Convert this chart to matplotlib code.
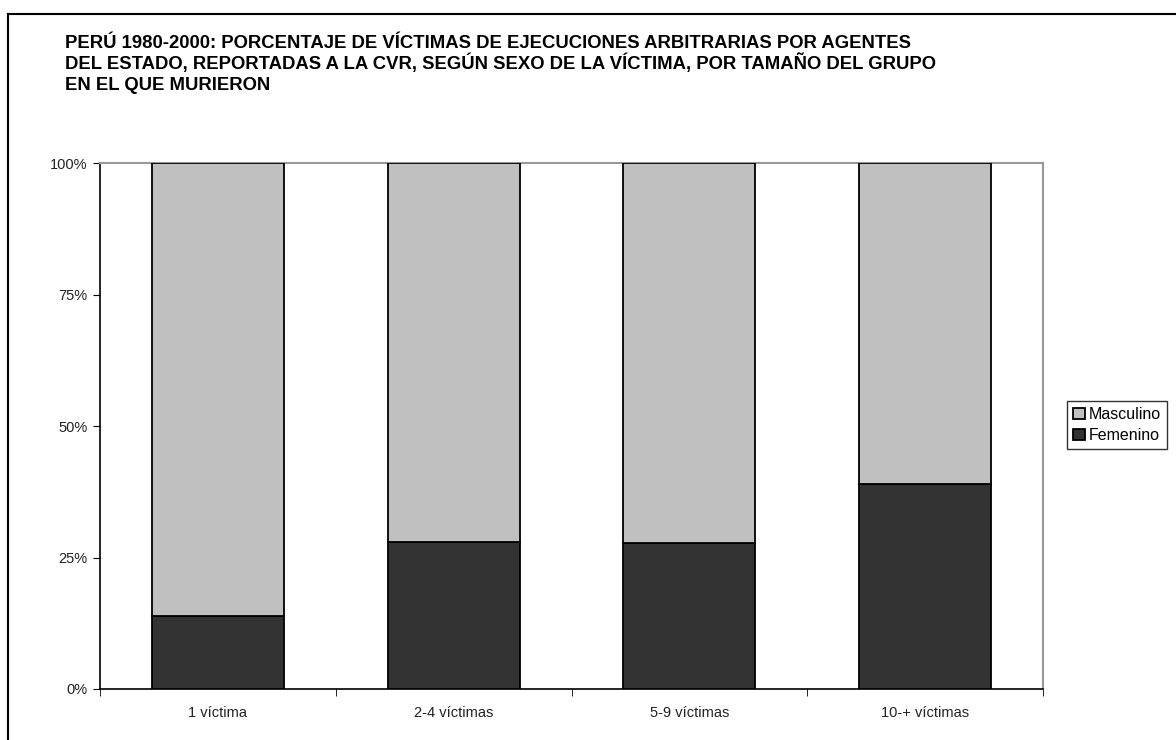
import matplotlib.pyplot as plt
from matplotlib.lines import Line2D

# data
grupos = ["1 víctima", "2-4 víctimas", "5-9 víctimas", "10-+ víctimas"]
femenino = [13.9, 28.0, 27.7, 39.0]
masculino = [86.1, 72.0, 72.3, 61.0]
yticks = [0, 25, 50, 75, 100]
ytick_labels = ["0%", "25%", "50%", "75%", "100%"]

titulo = ["PERÚ 1980-2000: PORCENTAJE DE VÍCTIMAS DE EJECUCIONES ARBITRARIAS POR AGENTES",
          "DEL ESTADO, REPORTADAS A LA CVR, SEGÚN SEXO DE LA VÍCTIMA, POR TAMAÑO DEL GRUPO",
          "EN EL QUE MURIERON"]

plt.rcParams['font.family'] = ['Liberation Sans', 'DejaVu Sans']

fig = plt.figure(figsize=(11.76, 7.40), dpi=100)
ax = fig.add_axes([100/1176, 51/740, 943/1176, 526/740])

x = list(range(len(grupos)))
w = 0.56
b1 = ax.bar(x, femenino, w, color="#333333", edgecolor="black", linewidth=1.3,
            label="Femenino", zorder=3)
b2 = ax.bar(x, masculino, w, bottom=femenino, color="#C0C0C0", edgecolor="black",
            linewidth=1.3, label="Masculino", zorder=3)

ax.set_xlim(-0.5, len(grupos) - 0.5)
ax.set_ylim(0, 100)
ax.set_yticks(yticks)
ax.set_yticklabels(ytick_labels, fontsize=10.5, color="#222222")
ax.set_xticks(x)
ax.set_xticklabels(grupos, fontsize=10.5, color="#222222")
ax.set_xticks([i - 0.5 for i in range(len(grupos) + 1)], minor=True)
ax.tick_params(axis="x", which="major", length=0, pad=12)
ax.tick_params(axis="x", which="minor", length=5, direction="out", color="black")
ax.tick_params(axis="y", length=5, direction="out", color="black", pad=4)

for s in ["left", "bottom"]:
    ax.spines[s].set_color("black")
    ax.spines[s].set_linewidth(1.2)
for s in ["top", "right"]:
    ax.spines[s].set_color("#999999")
    ax.spines[s].set_linewidth(1.5)

# title, one line at a time so the spacing stays even
for i, linea in enumerate(titulo):
    fig.text(65/1176, 1 - (48 + 21*i)/740, linea, fontsize=13.3, fontweight="bold",
             ha="left", va="baseline")

leg = ax.legend([b2, b1], ["Masculino", "Femenino"], loc="center left",
                bbox_to_anchor=(1067/1176, 1 - 425/740), bbox_transform=fig.transFigure,
                fontsize=11.5, frameon=True, fancybox=False, handlelength=0.7,
                handleheight=0.7, handletextpad=0.25, borderpad=0.4,
                labelspacing=0.35, borderaxespad=0)
leg.get_frame().set_edgecolor("black")
leg.get_frame().set_linewidth(1.0)

# chart area border (left and top edges visible)
fig.add_artist(Line2D([8/1176, 8/1176], [0, 1 - 14/740], color="black", lw=1.5))
fig.add_artist(Line2D([8/1176, 1], [1 - 14/740, 1 - 14/740], color="black", lw=1.5))

fig.savefig("out.png", dpi=100)
